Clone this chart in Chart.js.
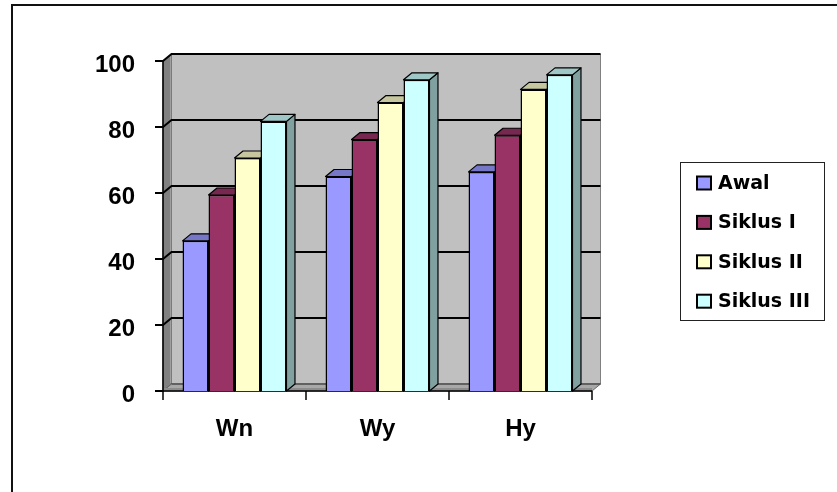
<!DOCTYPE html>
<html>
<head>
<meta charset="utf-8">
<script src="https://cdn.jsdelivr.net/npm/chart.js@4/dist/chart.umd.min.js"></script>
<style>
  html, body { margin: 0; padding: 0; background: #ffffff; }
  #wrap { width: 837px; height: 492px; position: relative; }
</style>
</head>
<body>
<div id="wrap"><canvas id="c" width="837" height="492"></canvas></div>
<script>
// Categories and series
const categories = ['Wn', 'Wy', 'Hy'];
const seriesNames = ['Awal', 'Siklus I', 'Siklus II', 'Siklus III'];
const awal      = [45.5, 65.0, 66.4];
const siklusI   = [59.4, 76.2, 77.5];
const siklusII  = [70.6, 87.4, 91.4];
const siklusIII = [81.7, 94.3, 95.8];
const yTicks    = [0, 20, 40, 60, 80, 100];

const faceColors = ['#9999FF', '#993366', '#FFFFCC', '#CCFFFF'];
const seriesValues = [awal, siklusI, siklusII, siklusIII];

// 3D depth offset of the walls and bars
const DX = 8.5, DY = -7;

function shade(hex, f) {
  const n = parseInt(hex.slice(1), 16);
  const r = Math.round(((n >> 16) & 255) * f);
  const g = Math.round(((n >> 8) & 255) * f);
  const b = Math.round((n & 255) * f);
  return `rgb(${r},${g},${b})`;
}

function poly(ctx, pts, fill, stroke, lw) {
  ctx.beginPath();
  ctx.moveTo(pts[0][0], pts[0][1]);
  for (let i = 1; i < pts.length; i++) ctx.lineTo(pts[i][0], pts[i][1]);
  ctx.closePath();
  if (fill) { ctx.fillStyle = fill; ctx.fill(); }
  if (stroke) { ctx.strokeStyle = stroke; ctx.lineWidth = lw || 1; ctx.stroke(); }
}

const AXIS_FONT = 'bold 24px "Liberation Sans", Arial, sans-serif';
const LEGEND_FONT = 'bold 19px "DejaVu Sans", sans-serif';

// Walls, floor, gridlines, axes, labels and the depth faces of the bars
const framePlugin = {
  id: 'frame3d',
  beforeDatasetsDraw(chart) {
    const ctx = chart.ctx;
    const ca = chart.chartArea;
    const ys = chart.scales.y, xs = chart.scales.x;
    const L = ca.left, R = ca.right, T = ys.getPixelForValue(100), B = ys.getPixelForValue(0);
    ctx.save();

    // outer frame
    ctx.strokeStyle = '#111';
    ctx.lineWidth = 2;
    ctx.strokeRect(12, 5, 900, 600);

    // back wall
    poly(ctx, [[L + DX, T + DY], [R + DX, T + DY], [R + DX, B + DY], [L + DX, B + DY]], '#C0C0C0', '#808080', 1);
    // side wall
    poly(ctx, [[L, T], [L + DX, T + DY], [L + DX, B + DY], [L, B]], '#808080', '#555', 1);
    ctx.fillStyle = '#A0A0A0';
    ctx.fillRect(L + DX - 1.5, T + DY + 1, 1.5, B - T - 2);
    // floor slab
    poly(ctx, [[L, B], [R, B], [R + DX, B + DY], [L + DX, B + DY]], '#A8A8A8', '#666', 1);
    ctx.fillStyle = '#8C8C8C';
    ctx.fillRect(L + 1, B - 3, R - L - 1, 2.5);
    ctx.beginPath();
    ctx.moveTo(L + DX, B + DY); ctx.lineTo(R + DX, B + DY);
    ctx.strokeStyle = '#555'; ctx.lineWidth = 1.5; ctx.stroke();

    // gridlines with their ticks on the front axis
    ctx.strokeStyle = '#000';
    ctx.lineWidth = 2;
    yTicks.forEach(v => {
      const y = ys.getPixelForValue(v);
      ctx.beginPath();
      ctx.moveTo(L - 8, y);
      ctx.lineTo(L, y);
      if (v > 0) {
        ctx.lineTo(L + DX, y + DY);
        ctx.lineTo(R + DX, y + DY);
      }
      ctx.stroke();
    });

    // vertical axis line
    ctx.lineWidth = 1.5;
    ctx.beginPath();
    ctx.moveTo(L, T); ctx.lineTo(L, B + 1);
    ctx.stroke();
    // horizontal axis line
    ctx.beginPath();
    ctx.moveTo(L, B); ctx.lineTo(R, B);
    ctx.stroke();
    // category boundary ticks
    const n = categories.length;
    const cw = (R - L) / n;
    for (let i = 0; i <= n; i++) {
      const x = L + i * cw;
      ctx.beginPath();
      ctx.moveTo(x, B); ctx.lineTo(x, B + 9);
      ctx.stroke();
    }

    // y tick labels
    ctx.fillStyle = '#000';
    ctx.font = AXIS_FONT;
    ctx.textAlign = 'right';
    ctx.textBaseline = 'alphabetic';
    yTicks.forEach(v => {
      ctx.fillText(String(v), L - 28, ys.getPixelForValue(v) + 10.5);
    });
    // category labels
    ctx.textAlign = 'center';
    categories.forEach((c, i) => {
      ctx.fillText(c, xs.getPixelForValue(i), B + 45);
    });

    // legend
    ctx.lineWidth = 1;
    ctx.strokeStyle = '#222';
    ctx.strokeRect(680.5, 162.5, 144, 158);
    ctx.font = LEGEND_FONT;
    ctx.textAlign = 'left';
    chart.data.datasets.forEach((ds, i) => {
      const base = 189 + i * 39.4;
      ctx.fillStyle = ds.backgroundColor;
      ctx.fillRect(697, base - 12.5, 14, 13);
      ctx.strokeStyle = '#000';
      ctx.lineWidth = 2;
      ctx.strokeRect(697, base - 12.5, 14, 13);
      ctx.fillStyle = '#000';
      ctx.fillText(ds.label, 718, base);
    });

    // side and top faces of every bar; the front faces drawn by the
    // library afterwards cover the parts hidden behind neighbours
    ctx.lineJoin = 'round';
    chart.data.datasets.forEach((ds, di) => {
      const meta = chart.getDatasetMeta(di);
      const col = ds.backgroundColor;
      meta.data.forEach(bar => {
        const p = bar.getProps(['x', 'y', 'base', 'width'], true);
        const l = p.x - p.width / 2, r = p.x + p.width / 2;
        poly(ctx, [[r, p.y], [r + DX, p.y + DY], [r + DX, p.base + DY], [r, p.base]], shade(col, 0.63), '#000', 1.2);
        poly(ctx, [[l, p.y], [l + DX, p.y + DY], [r + DX, p.y + DY], [r, p.y]], shade(col, 0.78), '#000', 1.2);
      });
    });
    ctx.restore();
  }
};

const datasets = seriesNames.map((name, i) => ({
  label: name,
  data: seriesValues[i],
  backgroundColor: faceColors[i],
  borderColor: '#000000',
  borderWidth: 1.5,
  categoryPercentage: 0.727,
  barPercentage: 1.0
}));

new Chart(document.getElementById('c'), {
  type: 'bar',
  data: { labels: categories, datasets },
  options: {
    responsive: false,
    devicePixelRatio: 1,
    animation: false,
    layout: { padding: { left: 163, right: 245, top: 61, bottom: 101 } },
    plugins: { legend: { display: false }, tooltip: { enabled: false } },
    scales: {
      x: { display: false },
      y: { display: false, min: 0, max: 100, ticks: { stepSize: 20 } }
    }
  },
  plugins: [framePlugin]
});
</script>
</body>
</html>
